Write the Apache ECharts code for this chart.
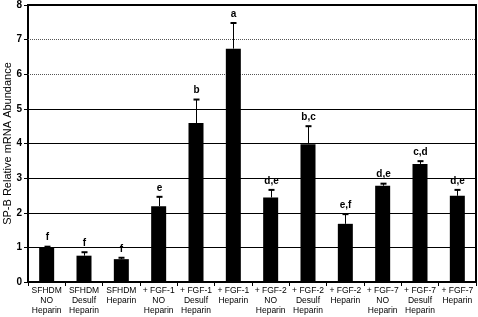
<!DOCTYPE html>
<html>
<head>
<meta charset="utf-8">
<script src="https://cdn.jsdelivr.net/npm/echarts@6/dist/echarts.min.js"></script>
<style>
	html,body{margin:0;padding:0;background:#fff;}
	#chart{width:478px;height:317px;}
</style>
</head>
<body>
<div id="chart"></div>
<script>
	// 类别
	var categories = [
		'SFHDM\nNO\nHeparin', 'SFHDM\nDesulf\nHeparin', 'SFHDM\nHeparin',
		'+ FGF-1\nNO\nHeparin', '+ FGF-1\nDesulf\nHeparin', '+ FGF-1\nHeparin',
		'+ FGF-2\nNO\nHeparin', '+ FGF-2\nDesulf\nHeparin', '+ FGF-2\nHeparin',
		'+ FGF-7\nNO\nHeparin', '+ FGF-7\nDesulf\nHeparin', '+ FGF-7\nHeparin'
	];
	// 平均值
	var means = [1.0, 0.76, 0.66, 2.19, 4.59, 6.74, 2.44, 3.98, 1.68, 2.78, 3.41, 2.49];
	// 误差上限
	var errTops = [1.02, 0.86, 0.70, 2.46, 5.27, 7.48, 2.66, 4.50, 1.96, 2.84, 3.49, 2.66];
	// 显著性字母
	var letters = ['f', 'f', 'f', 'e', 'b', 'a', 'd,e', 'b,c', 'e,f', 'd,e', 'c,d', 'd,e'];
	// 刻度
	var yTicks = [0, 1, 2, 3, 4, 5, 6, 7, 8];
	var dottedTicks = [6, 7];

	var chart = echarts.init(document.getElementById('chart'));

	var gridLines = yTicks.filter(function(v){ return v > 0 && v < 8; }).map(function(v){
		var dotted = dottedTicks.indexOf(v) >= 0;
		return {
			yAxis: v,
			lineStyle: {
				color: dotted ? '#555' : '#000',
				type: dotted ? [1, 1] : 'solid',
				width: 1
			}
		};
	});

	var errData = means.map(function(m, i){ return [i, m, errTops[i], letters[i]]; });

	chart.setOption({
		animation: false,
		textStyle: {fontFamily: 'Arial, "Liberation Sans", sans-serif'},
		grid: {
			left: 28, right: 2, top: 5, bottom: 35,
			outerBoundsMode: 'none',
			containLabel: false,
			show: true, borderColor: '#000', borderWidth: 2
		},
		xAxis: {
			type: 'category',
			data: categories,
			axisLine: {lineStyle: {color: '#000', width: 2}},
			axisTick: {show: true, length: 4, lineStyle: {color: '#000', width: 1}},
			axisLabel: {
				color: '#000', fontSize: 8.5, lineHeight: 10, margin: 4, interval: 0
			}
		},
		yAxis: {
			type: 'value',
			min: 0, max: 8, interval: 1,
			name: 'SP-B Relative mRNA Abundance',
			nameLocation: 'middle',
			nameGap: 15,
			nameMoveOverlap: false,
			nameTextStyle: {color: '#000', fontSize: 11},
			axisLine: {show: true, lineStyle: {color: '#000', width: 2}},
			axisTick: {show: true, length: 4, lineStyle: {color: '#000'}},
			axisLabel: {color: '#000', fontSize: 10, fontWeight: 'bold', margin: 6},
			splitLine: {show: false}
		},
		series: [{
			type: 'bar',
			data: means,
			barWidth: 15,
			itemStyle: {color: '#000'},
			markLine: {
				silent: true,
				symbol: 'none',
				label: {show: false},
				z: 1,
				data: gridLines
			},
			z: 3
		}, {
			type: 'custom',
			data: errData,
			z: 4,
			renderItem: function(params, api){
				var x = api.coord([api.value(0), api.value(1)]);
				var top = api.coord([api.value(0), api.value(2)]);
				var cx = Math.round(x[0]) + 0.5;
				return {
					type: 'group',
					children: [{
						type: 'line',
						shape: {x1: cx, y1: x[1], x2: cx, y2: top[1]},
						style: {stroke: '#000', lineWidth: 1}
					}, {
						type: 'line',
						shape: {x1: cx - 3, y1: top[1], x2: cx + 3, y2: top[1]},
						style: {stroke: '#000', lineWidth: 2}
					}, {
						type: 'text',
						style: {
							text: letters[params.dataIndex],
							x: cx, y: top[1] - 4,
							align: 'center', verticalAlign: 'bottom',
							fill: '#000', fontSize: 10, fontWeight: 'bold',
							fontFamily: 'Arial, "Liberation Sans", sans-serif'
						}
					}]
				};
			}
		}]
	});
</script>
</body>
</html>
